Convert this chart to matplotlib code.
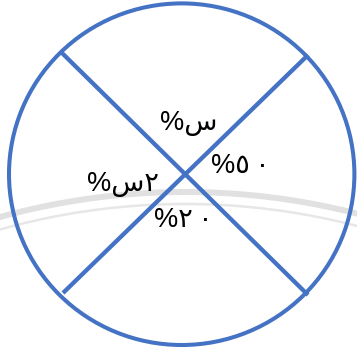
import matplotlib
matplotlib.use("Agg")
import matplotlib.pyplot as plt
from matplotlib.patches import Ellipse, Arc

# Labels of the four sectors (top, right, bottom, left), visual left-to-right order
sector_labels = ['%س', '%٥\u2009٠', '%٢\u2009٠', '%س٢']

W, H = 357, 351
fig = plt.figure(figsize=(W / 100, H / 100), dpi=100)
ax = fig.add_axes([0, 0, 1, 1])
ax.set_xlim(0, W)
ax.set_ylim(H, 0)
ax.axis('off')

blue = '#4472C4'

# faint background arcs
ax.add_patch(Arc((185, 889), 2 * 697, 2 * 697, theta1=180, theta2=360,
                 lw=4.3, color='#e0e1e0', zorder=1))
ax.add_patch(Arc((185, 889), 2 * 685, 2 * 685, theta1=180, theta2=360,
                 lw=1.8, color='#e6e7e6', zorder=1))

# circle
ax.add_patch(Ellipse((181.7, 174.2), 2 * 172.7, 2 * 170.8, fill=False,
                     lw=2.9, edgecolor=blue, zorder=3))

# diagonals
ax.plot([62, 308], [53, 295], color=blue, lw=3.1, solid_capstyle='butt', zorder=3)
ax.plot([308, 63], [55, 293], color=blue, lw=3.1, solid_capstyle='butt', zorder=3)

positions = [(189, 123), (240, 166), (183, 220), (123, 184)]
for lab, (x, y) in zip(sector_labels, positions):
    ax.text(x, y, lab, ha='center', va='center', fontsize=19.5,
            family=['Liberation Sans', 'DejaVu Sans'], color='black', zorder=4)

fig.savefig('out.png', dpi=100)
